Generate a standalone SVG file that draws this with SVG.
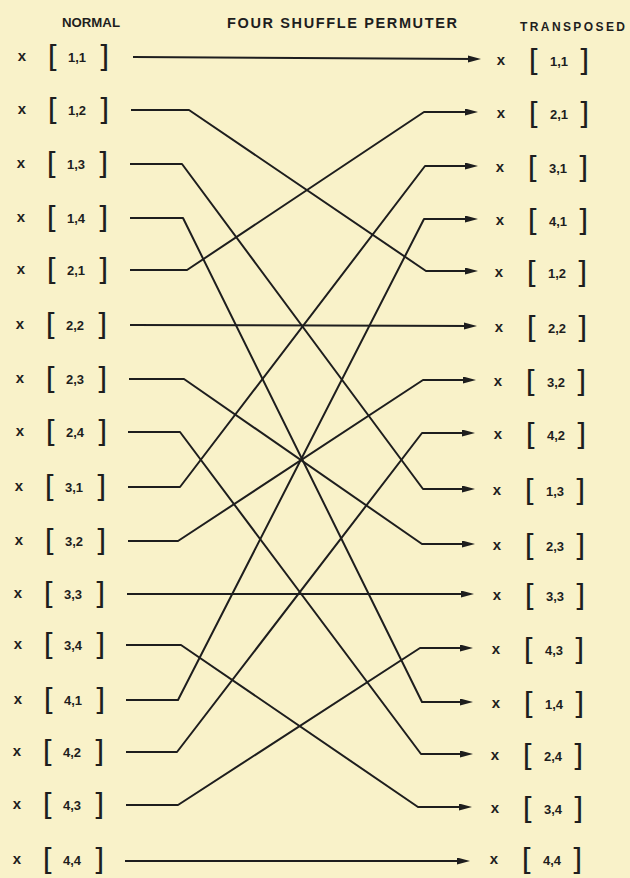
<svg xmlns="http://www.w3.org/2000/svg" width="630" height="878" viewBox="0 0 630 878">
<style>
text{font-family:"Liberation Sans",Arial,sans-serif;fill:#1e1e1e}
.t{font-weight:bold;font-size:12px}
.x{font-weight:bold;font-size:15px;text-anchor:middle}
.br{font-family:"DejaVu Sans",sans-serif;font-size:30px}
.lab{font-weight:bold;font-size:13px;text-anchor:middle}
.c{fill:none;stroke:#1e1e1e;stroke-width:2;stroke-linejoin:round}
</style>
<defs>
<marker id="ah" markerUnits="userSpaceOnUse" markerWidth="14" markerHeight="8" refX="7" refY="3.5" orient="auto">
<path d="M0,0 L13,3.5 L0,7 z" fill="#1e1e1e"/>
</marker>
</defs>
<rect width="630" height="878" fill="#F9F2C9"/>
<g id="titles">
<text class="t" x="62" y="27" textLength="58" lengthAdjust="spacingAndGlyphs">NORMAL</text>
<text class="t" x="227" y="28" style="font-size:14.5px" textLength="230" lengthAdjust="spacing">FOUR SHUFFLE PERMUTER</text>
<text class="t" x="520" y="31" textLength="105" lengthAdjust="spacing">TRANSPOSED</text>
</g>
<g id="connectors">
<path class="c" marker-end="url(#ah)" d="M133,57 L475,59"/>
<path class="c" marker-end="url(#ah)" d="M131,110 H189 L426,271 H472"/>
<path class="c" marker-end="url(#ah)" d="M130,164 H182 L423,489 H469"/>
<path class="c" marker-end="url(#ah)" d="M130,218 H183 L422,702 H467"/>
<path class="c" marker-end="url(#ah)" d="M130,270 H187 L424,112 H472"/>
<path class="c" marker-end="url(#ah)" d="M130,325 L471,326"/>
<path class="c" marker-end="url(#ah)" d="M129,379 H184 L422,544 H469"/>
<path class="c" marker-end="url(#ah)" d="M128,432 H180 L421,754 H467"/>
<path class="c" marker-end="url(#ah)" d="M128,487 H180 L425,166 H472"/>
<path class="c" marker-end="url(#ah)" d="M128,541 H178 L423,380 H470"/>
<path class="c" marker-end="url(#ah)" d="M127,594 L468,594"/>
<path class="c" marker-end="url(#ah)" d="M126,645 H181 L418,807 H466"/>
<path class="c" marker-end="url(#ah)" d="M126,700 H178 L424,219 H472"/>
<path class="c" marker-end="url(#ah)" d="M126,752 H177 L422,433 H469"/>
<path class="c" marker-end="url(#ah)" d="M126,805 H178 L420,648 H467"/>
<path class="c" marker-end="url(#ah)" d="M125,861 L464,861"/>
</g>
<g id="normal">
<g id="n11" transform="translate(0,57)"><text class="x" x="22" y="4">x</text><text class="br" x="47.6" y="9.5">[</text><text class="lab" x="77" y="4.5">1,1</text><text class="br" x="97.7" y="9.5">]</text></g>
<g id="n12" transform="translate(0,110)"><text class="x" x="22" y="4">x</text><text class="br" x="47.6" y="9.5">[</text><text class="lab" x="77" y="4.5">1,2</text><text class="br" x="97.7" y="9.5">]</text></g>
<g id="n13" transform="translate(-1,164)"><text class="x" x="22" y="4">x</text><text class="br" x="47.6" y="9.5">[</text><text class="lab" x="77" y="4.5">1,3</text><text class="br" x="97.7" y="9.5">]</text></g>
<g id="n14" transform="translate(-1,218)"><text class="x" x="22" y="4">x</text><text class="br" x="47.6" y="9.5">[</text><text class="lab" x="77" y="4.5">1,4</text><text class="br" x="97.7" y="9.5">]</text></g>
<g id="n21" transform="translate(-1,270)"><text class="x" x="22" y="4">x</text><text class="br" x="47.6" y="9.5">[</text><text class="lab" x="77" y="4.5">2,1</text><text class="br" x="97.7" y="9.5">]</text></g>
<g id="n22" transform="translate(-2,325)"><text class="x" x="22" y="4">x</text><text class="br" x="47.6" y="9.5">[</text><text class="lab" x="77" y="4.5">2,2</text><text class="br" x="97.7" y="9.5">]</text></g>
<g id="n23" transform="translate(-2,379)"><text class="x" x="22" y="4">x</text><text class="br" x="47.6" y="9.5">[</text><text class="lab" x="77" y="4.5">2,3</text><text class="br" x="97.7" y="9.5">]</text></g>
<g id="n24" transform="translate(-2,432)"><text class="x" x="22" y="4">x</text><text class="br" x="47.6" y="9.5">[</text><text class="lab" x="77" y="4.5">2,4</text><text class="br" x="97.7" y="9.5">]</text></g>
<g id="n31" transform="translate(-3,487)"><text class="x" x="22" y="4">x</text><text class="br" x="47.6" y="9.5">[</text><text class="lab" x="77" y="4.5">3,1</text><text class="br" x="97.7" y="9.5">]</text></g>
<g id="n32" transform="translate(-3,541)"><text class="x" x="22" y="4">x</text><text class="br" x="47.6" y="9.5">[</text><text class="lab" x="77" y="4.5">3,2</text><text class="br" x="97.7" y="9.5">]</text></g>
<g id="n33" transform="translate(-4,594)"><text class="x" x="22" y="4">x</text><text class="br" x="47.6" y="9.5">[</text><text class="lab" x="77" y="4.5">3,3</text><text class="br" x="97.7" y="9.5">]</text></g>
<g id="n34" transform="translate(-4,645)"><text class="x" x="22" y="4">x</text><text class="br" x="47.6" y="9.5">[</text><text class="lab" x="77" y="4.5">3,4</text><text class="br" x="97.7" y="9.5">]</text></g>
<g id="n41" transform="translate(-4,700)"><text class="x" x="22" y="4">x</text><text class="br" x="47.6" y="9.5">[</text><text class="lab" x="77" y="4.5">4,1</text><text class="br" x="97.7" y="9.5">]</text></g>
<g id="n42" transform="translate(-5,752)"><text class="x" x="22" y="4">x</text><text class="br" x="47.6" y="9.5">[</text><text class="lab" x="77" y="4.5">4,2</text><text class="br" x="97.7" y="9.5">]</text></g>
<g id="n43" transform="translate(-5,805)"><text class="x" x="22" y="4">x</text><text class="br" x="47.6" y="9.5">[</text><text class="lab" x="77" y="4.5">4,3</text><text class="br" x="97.7" y="9.5">]</text></g>
<g id="n44" transform="translate(-5,860)"><text class="x" x="22" y="4">x</text><text class="br" x="47.6" y="9.5">[</text><text class="lab" x="77" y="4.5">4,4</text><text class="br" x="97.7" y="9.5">]</text></g>
</g>
<g id="transposed">
<g id="t11" transform="translate(0,61)"><text class="x" x="501" y="4">x</text><text class="br" x="528.6" y="9.5">[</text><text class="lab" x="559" y="4.5">1,1</text><text class="br" x="577.7" y="9.5">]</text></g>
<g id="t21" transform="translate(0,114)"><text class="x" x="501" y="4">x</text><text class="br" x="528.6" y="9.5">[</text><text class="lab" x="559" y="4.5">2,1</text><text class="br" x="577.7" y="9.5">]</text></g>
<g id="t31" transform="translate(-1,168)"><text class="x" x="501" y="4">x</text><text class="br" x="528.6" y="9.5">[</text><text class="lab" x="559" y="4.5">3,1</text><text class="br" x="577.7" y="9.5">]</text></g>
<g id="t41" transform="translate(-1,221)"><text class="x" x="501" y="4">x</text><text class="br" x="528.6" y="9.5">[</text><text class="lab" x="559" y="4.5">4,1</text><text class="br" x="577.7" y="9.5">]</text></g>
<g id="t12" transform="translate(-2,273)"><text class="x" x="501" y="4">x</text><text class="br" x="528.6" y="9.5">[</text><text class="lab" x="559" y="4.5">1,2</text><text class="br" x="577.7" y="9.5">]</text></g>
<g id="t22" transform="translate(-2,328)"><text class="x" x="501" y="4">x</text><text class="br" x="528.6" y="9.5">[</text><text class="lab" x="559" y="4.5">2,2</text><text class="br" x="577.7" y="9.5">]</text></g>
<g id="t32" transform="translate(-3,382)"><text class="x" x="501" y="4">x</text><text class="br" x="528.6" y="9.5">[</text><text class="lab" x="559" y="4.5">3,2</text><text class="br" x="577.7" y="9.5">]</text></g>
<g id="t42" transform="translate(-3,435)"><text class="x" x="501" y="4">x</text><text class="br" x="528.6" y="9.5">[</text><text class="lab" x="559" y="4.5">4,2</text><text class="br" x="577.7" y="9.5">]</text></g>
<g id="t13" transform="translate(-4,491)"><text class="x" x="501" y="4">x</text><text class="br" x="528.6" y="9.5">[</text><text class="lab" x="559" y="4.5">1,3</text><text class="br" x="577.7" y="9.5">]</text></g>
<g id="t23" transform="translate(-4,546)"><text class="x" x="501" y="4">x</text><text class="br" x="528.6" y="9.5">[</text><text class="lab" x="559" y="4.5">2,3</text><text class="br" x="577.7" y="9.5">]</text></g>
<g id="t33" transform="translate(-4,596)"><text class="x" x="501" y="4">x</text><text class="br" x="528.6" y="9.5">[</text><text class="lab" x="559" y="4.5">3,3</text><text class="br" x="577.7" y="9.5">]</text></g>
<g id="t43" transform="translate(-5,650)"><text class="x" x="501" y="4">x</text><text class="br" x="528.6" y="9.5">[</text><text class="lab" x="559" y="4.5">4,3</text><text class="br" x="577.7" y="9.5">]</text></g>
<g id="t14" transform="translate(-5,704)"><text class="x" x="501" y="4">x</text><text class="br" x="528.6" y="9.5">[</text><text class="lab" x="559" y="4.5">1,4</text><text class="br" x="577.7" y="9.5">]</text></g>
<g id="t24" transform="translate(-6,756)"><text class="x" x="501" y="4">x</text><text class="br" x="528.6" y="9.5">[</text><text class="lab" x="559" y="4.5">2,4</text><text class="br" x="577.7" y="9.5">]</text></g>
<g id="t34" transform="translate(-6,809)"><text class="x" x="501" y="4">x</text><text class="br" x="528.6" y="9.5">[</text><text class="lab" x="559" y="4.5">3,4</text><text class="br" x="577.7" y="9.5">]</text></g>
<g id="t44" transform="translate(-7,860)"><text class="x" x="501" y="4">x</text><text class="br" x="528.6" y="9.5">[</text><text class="lab" x="559" y="4.5">4,4</text><text class="br" x="577.7" y="9.5">]</text></g>
</g>
</svg>
